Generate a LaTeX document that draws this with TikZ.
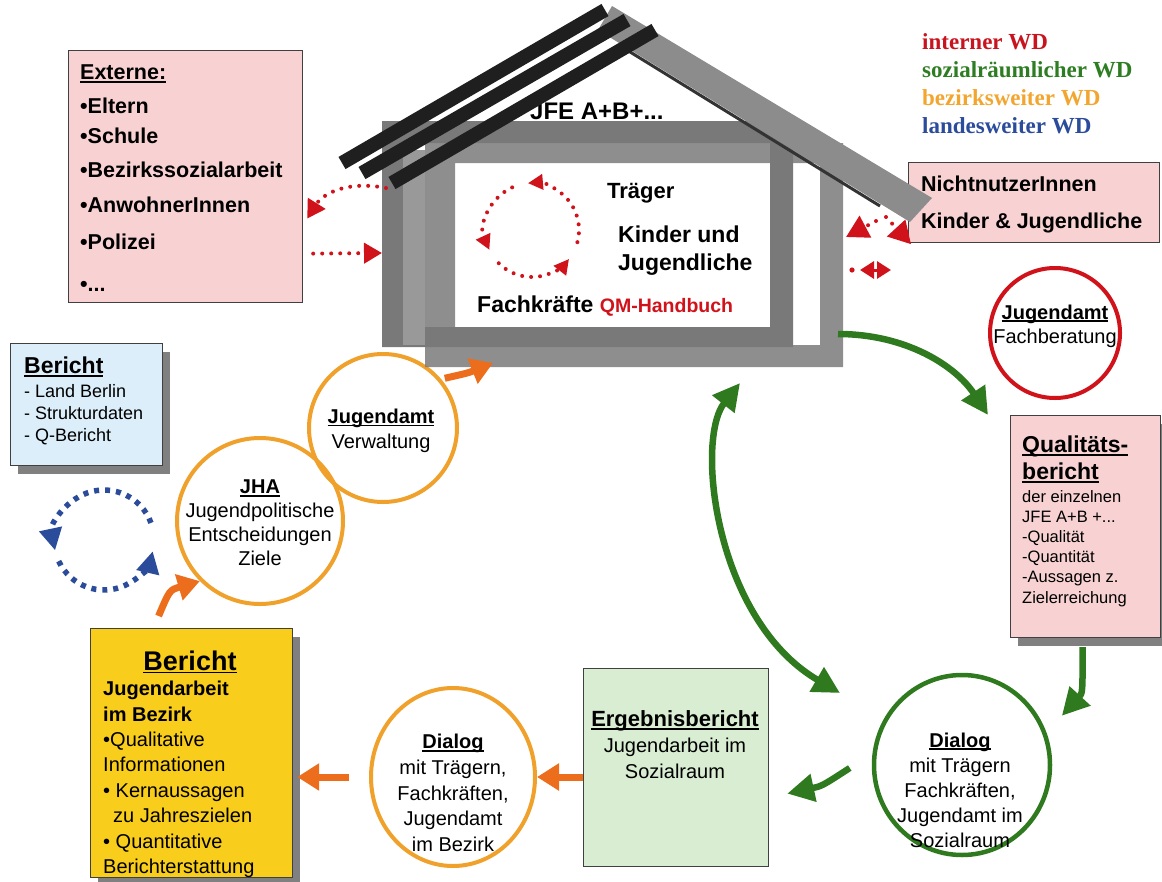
\documentclass[tikz,border=0pt]{standalone}
\usepackage{fontspec}
\setmainfont{Liberation Sans}
\newfontfamily\legendfont{Liberation Serif}
\usetikzlibrary{arrows.meta,calc,shapes.geometric,shadows}
\definecolor{rd}{HTML}{D0121B}
\definecolor{gn}{HTML}{2F7A1F}
\definecolor{orc}{HTML}{F0A12B}
\definecolor{ora}{HTML}{EC6E1C}
\definecolor{bl}{HTML}{2B4B9B}
\definecolor{pinkf}{HTML}{F8D2D2}
\definecolor{bluef}{HTML}{DCEEF9}
\definecolor{greenf}{HTML}{D9EDD2}
\definecolor{yel}{HTML}{F8CD1B}
\definecolor{lgor}{HTML}{F2A630}
\definecolor{lggn}{HTML}{2E7D23}
\definecolor{lgrd}{HTML}{C8141E}
\newcommand\fsz[2]{\fontsize{#1}{#2}\selectfont}
\newcommand\ulx[1]{\setbox0\hbox{#1}\rlap{\rule[-2.8pt]{\wd0}{1.6pt}}\box0}
\begin{document}
\begin{tikzpicture}[x=1pt,y=-1pt,
  box/.style={draw=black!75, line width=1.2pt, anchor=north west, inner sep=0pt},
  shadowed/.style={drop shadow={shadow xshift=7pt,shadow yshift=-8pt,fill=black!50,opacity=1}},
  txt/.style={inner sep=0pt, align=left, anchor=north west},
  ctxt/.style={inner sep=0pt, align=center},
  reddots/.style={rd, line width=4pt, line cap=round, dash pattern=on 0pt off 9pt},
  redtip/.style={-{Triangle[length=18pt,width=20pt]}},
  bigredtip/.style={-{Triangle[length=22pt,width=24pt]}},
  bldots/.style={bl, line width=5.5pt, dash pattern=on 5pt off 6pt},
  gnarr/.style={gn, line width=6.5pt, -{Triangle[length=27pt,width=27pt]}},
  gnarrd/.style={gn, line width=6.5pt, {Triangle[length=27pt,width=27pt]}-{Triangle[length=27pt,width=27pt]}},
  orarr/.style={ora, line width=7pt, -{Triangle[length=22pt,width=26pt]}},
  ocirc/.style={draw=orc, line width=4pt}
]
\useasboundingbox (0,0) rectangle (1162,881);

% ---------------- legend
\node[txt, font=\legendfont\bfseries\fsz{23}{28}] (legend) at (922,33)
  {\textcolor{lgrd}{interner WD}\\\textcolor{lggn}{sozialräumlicher WD}\\\textcolor{lgor}{bezirksweiter WD}\\\textcolor{bl}{landesweiter WD}};

% ---------------- boxes
\node[box, fill=pinkf, minimum width=234pt, minimum height=252pt] (ext) at (68,50) {};
\node[txt, font=\bfseries\fsz{21.5}{30}] (exttxt) at (80,65)
  {\ulx{Externe:}\\[4pt]•Eltern\\•Schule\\[4pt]•Bezirkssozialarbeit\\[5pt]•AnwohnerInnen\\[7pt]•Polizei\\[12pt]•...};

\node[box, fill=pinkf, minimum width=251pt, minimum height=80pt] (nn) at (908,162) {};
\node[txt, font=\bfseries\fsz{21.5}{37}] (nntxt) at (921,176) {NichtnutzerInnen\\Kinder \& Jugendliche};

\node[box, fill=pinkf, shadowed, minimum width=150pt, minimum height=222pt] (qb) at (1010,415) {};
\node[txt, font=\bfseries\fsz{23}{27}] (qbt) at (1022,436) {\ulx{Qualitäts-}\\\ulx{bericht}};
\node[txt, font=\fsz{16.5}{20.2}] (qbb) at (1022,490)
  {der einzelnen\\JFE A+B +...\\-Qualität\\-Quantität\\-Aussagen z.\\Zielerreichung};

\node[box, fill=bluef, shadowed, minimum width=152pt, minimum height=122pt] (bb) at (10,343) {};
\node[txt, font=\bfseries\fsz{23}{27}] (bbt) at (24,357) {\ulx{Bericht}};
\node[txt, font=\fsz{18}{22}] (bbb) at (24,384) {- Land Berlin\\- Strukturdaten\\- Q-Bericht};

\node[box, fill=yel, shadowed, minimum width=202pt, minimum height=249pt] (yb) at (90,628) {};
\node[ctxt, font=\bfseries\fsz{27}{30}] (ybt) at (190,662) {\ulx{Bericht}};
\node[txt, font=\fsz{20}{25.4}] (ybb) at (103,681)
  {\textbf{Jugendarbeit}\\\textbf{im Bezirk}\\•Qualitative\\Informationen\\• Kernaussagen\\\hspace*{10pt}zu Jahreszielen\\• Quantitative\\Berichterstattung};

\node[box, fill=greenf, minimum width=185pt, minimum height=198pt] (erg) at (583,668) {};
\node[ctxt, font=\fsz{20}{26}] (ergt) at (675,745)
  {{\bfseries\fsz{22}{26}\ulx{Ergebnisbericht}}\\Jugendarbeit im\\Sozialraum};

% ---------------- circles
\node[circle, draw=rd, line width=4pt, minimum size=130pt] (fb) at (1055,333) {};
\node[ctxt, font=\fsz{20}{24}] (fbt) at (1055,326) {\textbf{\ulx{Jugendamt}}\\Fachberatung};

\node[ellipse, draw=gn, line width=4.5pt, minimum width=176pt, minimum height=180pt] (gd) at (962,765) {};
\node[ctxt, font=\fsz{20}{25}] (gdt) at (960,790)
  {\textbf{\ulx{Dialog}}\\mit Trägern\\Fachkräften,\\Jugendamt im\\Sozialraum};

\node[ellipse, ocirc, minimum width=164pt, minimum height=178pt] (od) at (453,777) {};
\node[ctxt, font=\fsz{20}{25.7}] (odt) at (453,793)
  {\textbf{\ulx{Dialog}}\\mit Trägern,\\Fachkräften,\\Jugendamt\\im Bezirk};

\node[circle, ocirc, minimum size=166pt] (jha) at (260,521) {};
\node[ctxt, font=\fsz{20}{24}] (jhat) at (260,523)
  {\textbf{\ulx{JHA}}\\Jugendpolitische\\Entscheidungen\\Ziele};

\node[circle, ocirc, minimum size=148pt] (vw) at (383,428) {};
\node[ctxt, font=\fsz{20}{25}] (vwt) at (381,431) {\textbf{\ulx{Jugendamt}}\\Verwaltung};

% ---------------- house
\node[anchor=base west, inner sep=0pt, font=\bfseries\fsz{24}{28}] (jfe) at (530,119) {JFE A+B+...};
\fill[black!62, opacity=.85, even odd rule] (382,121) rectangle (793,347) (403,143) rectangle (770,327);
\fill[black!40] (403,150) rectangle (425,345);
\fill[black!52, opacity=.85, even odd rule] (425,143) rectangle (843,367) (455,163) rectangle (820,345);
% right roof beam
\fill[black!45] (612,6) -- (932,198) -- (910,222) -- (598,30) -- cycle;
\draw[black!80, line width=3pt] (622,47) -- (880,206);
% left roof beams
\draw[black!88, line width=14pt] (342,163) -- (605,10);
\draw[black!88, line width=14pt] (362,173) -- (627,20);
\draw[black!88, line width=14pt] (392,183) -- (655,30);

\node[anchor=base west, inner sep=0pt, font=\bfseries\fsz{22}{26}] (traeger) at (607,198) {Träger};
\node[txt, font=\bfseries\fsz{23}{28}] (kj) at (618,226) {Kinder und\\Jugendliche};
\node[anchor=base west, inner sep=0pt, font=\bfseries\fsz{23}{28}] (fk) at (477,312)
  {Fachkräfte \textcolor{rd}{\fsz{19.5}{24}QM-Handbuch}};

% internal red cycle
\coordinate (rc) at (532,230);
\draw[reddots, -{Triangle[length=15pt,width=15pt]}] (rc) ++(15:47) arc[start angle=15, end angle=-95, radius=47];
\draw[reddots, -{Triangle[length=15pt,width=15pt]}] (rc) ++(-115:47) arc[start angle=-115, end angle=-205, radius=47];
\draw[reddots, -{Triangle[length=15pt,width=15pt]}] (rc) ++(-225:47) arc[start angle=-225, end angle=-322, radius=47];

% blue cycle
\coordinate (bc) at (104,540);
\draw[bldots, -{Triangle[length=22pt,width=22pt]}] (bc) ++(-20:50) arc[start angle=-20, end angle=-192, radius=50];
\draw[bldots, -{Triangle[length=22pt,width=22pt]}] (bc) ++(-205:50) arc[start angle=-205, end angle=-347, radius=50];

% ---------------- red connectors
\coordinate (hl1) at (386,188);
\coordinate (hl2) at (382,253);
\draw[reddots, redtip] (hl1) .. controls (345,180) and (322,195) .. ($(ext.east)+(4,42)$);
\draw[reddots, redtip] ($(ext.east)+(10,77)$) -- (hl2);
\coordinate (hr1) at (876,221);
\coordinate (hr2) at (846,237);
\coordinate (hr3) at (886,217);
\draw[reddots, bigredtip] (hr1) -- (hr2);
\draw[reddots, bigredtip] (hr3) -- ($(nn.south west)+(3,1)$);
\coordinate (hr4) at (860,270);
\coordinate (hr5) at (891,270);
\fill[rd] (852,270) circle (2.6);
\draw[rd, line width=3pt, {Triangle[length=14pt,width=17pt]}-{Triangle[length=14pt,width=17pt]}] (hr4) -- (hr5);

% ---------------- green connectors
\coordinate (hbr) at (838,334);
\coordinate (hbot) at (740,383);
\coordinate (gdin) at (840,693);
\draw[gnarr] (hbr) .. controls (905,334) and (955,365) .. ($(qb.north west)+(-22,0)$);
\draw[gnarr] ($(qb.south)+(-3,9)$) .. controls ($(qb.south)+(-3,55)$) .. ($(gd.north east)+(36,16)$);
\draw[gnarr] ($(gd.west)+(-22,3)$) .. controls (822,786) .. ($(erg.east)+(18,26)$);
\draw[gnarrd] (hbot) .. controls (695,440) and (715,620) .. (gdin);

% ---------------- orange connectors
\coordinate (hbl) at (493,363);
\draw[orarr] (od.east -| erg.west) -- (od.east);
\draw[orarr] ($(od.west)+(-20,0)$) -- ($(od.west -| yb.east)+(4,0)$);
\draw[orarr] ($(yb.north)+(-33,-12)$) .. controls ($(yb.north)+(-22,-38)$) .. (jha.south west);
\draw[orarr] ($(vw.north east)+(8,4)$) .. controls (468,373) .. (hbl);
\end{tikzpicture}
\end{document}
